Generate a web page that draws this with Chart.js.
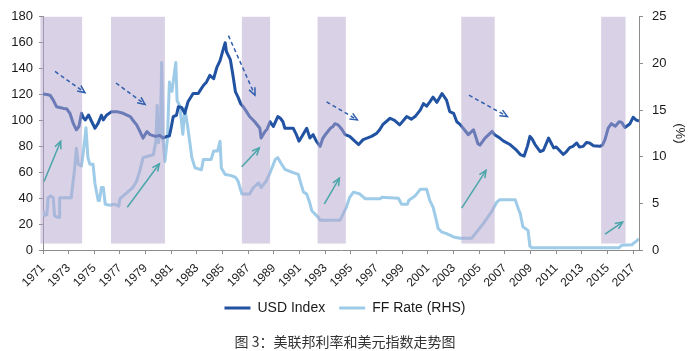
<!DOCTYPE html>
<html>
<head>
<meta charset="utf-8">
<script src="https://cdn.jsdelivr.net/npm/chart.js@4.4.1/dist/chart.umd.min.js"></script>
<style>
  html, body { margin: 0; padding: 0; background: #fff; }
  #wrap { width: 700px; height: 351px; }
</style>
</head>
<body>
<div id="wrap"><canvas id="chart" width="700" height="351"></canvas></div>
<script>
// ---- DATA ----
// USD index (left axis)
const usdYears = [
  1971.0, 1971.3, 1971.55, 1971.8, 1972.05, 1972.3, 1972.6, 1972.85, 1973.1, 1973.35, 1973.6, 1973.8,
  1974.0, 1974.15, 1974.3, 1974.55, 1974.8, 1975.05, 1975.3, 1975.55, 1975.7, 1975.95, 1976.35, 1976.75,
  1977.25, 1977.8, 1978.1, 1978.3, 1978.55, 1978.8, 1979.1, 1979.35, 1979.75, 1980.1, 1980.35, 1980.65,
  1980.85, 1981.0, 1981.15, 1981.4, 1981.55, 1981.8, 1982.05, 1982.3, 1982.7, 1983.1, 1983.3, 1983.5,
  1983.75, 1984.0, 1984.3, 1984.55, 1984.8, 1985.05, 1985.2, 1985.3, 1985.45, 1985.6, 1985.8, 1986.0,
  1986.2, 1986.4, 1986.6, 1986.85, 1987.1, 1987.5, 1987.9, 1988.0, 1988.3, 1988.45, 1988.7, 1988.95,
  1989.3, 1989.5, 1989.7, 1989.85, 1990.1, 1990.5, 1990.75, 1990.95, 1991.2, 1991.55, 1991.8, 1992.05,
  1992.3, 1992.6, 1992.8, 1993.0, 1993.4, 1993.6, 1993.75, 1994.0, 1994.3, 1994.55, 1994.9, 1995.3,
  1995.6, 1995.95, 1996.3, 1996.6, 1997.0, 1997.25, 1997.5, 1998.05, 1998.4, 1998.8, 1999.35, 1999.7,
  2000.0, 2000.4, 2000.65, 2000.9, 2001.15, 2001.4, 2001.7, 2002.1, 2002.45, 2002.7, 2003.0, 2003.25,
  2003.5, 2003.75, 2004.15, 2004.55, 2004.9, 2005.05, 2005.45, 2006.0, 2006.2, 2006.6, 2006.9, 2007.4,
  2007.9, 2008.2, 2008.5, 2008.75, 2008.95, 2009.1, 2009.35, 2009.75, 2010.0, 2010.4, 2010.8, 2011.0,
  2011.55, 2011.8, 2012.05, 2012.3, 2012.6, 2012.8, 2013.1, 2013.35, 2013.6, 2013.9, 2014.4, 2014.6,
  2014.8, 2015.05, 2015.3, 2015.6, 2015.9, 2016.1, 2016.35, 2016.75, 2017.0, 2017.2, 2017.45
];
const usdValues = [
  120.5, 120, 119.5, 115.7, 110.6, 110, 109.3, 109, 105.5, 97.9, 92.8, 95.3,
  105.5, 102, 100.4, 104.2, 99, 94, 97.9, 104, 100.4, 104, 106.8, 106.8,
  105.5, 103, 99, 96.6, 91.5, 86.4, 91.5, 89, 87.7, 88.5, 86.4, 87.7,
  88, 95, 103, 104, 110.6, 110, 105.5, 114.4, 120.8, 120.8, 124, 127,
  129.7, 134.8, 132.2, 141, 146.2, 155, 160, 153, 150, 147, 135, 122,
  118, 113, 110.6, 107, 103, 99, 94, 86.4, 91.5, 93, 99, 95.3,
  103, 101.7, 99, 94, 94, 94, 89, 84, 88, 94, 86.4, 89,
  84, 80, 86, 89, 94, 95.3, 97.5, 96.6, 93, 89, 87.7, 84,
  81.4, 85.2, 86.5, 87.7, 90, 93, 97, 101.7, 100, 96.6, 103, 101,
  103, 108, 113, 111, 114.4, 118, 114, 120.8, 115.7, 106.8, 105.5, 99,
  97, 94, 89, 92.8, 82, 81, 86.4, 91.5, 89, 86.4, 84, 81.4,
  77, 73.7, 72.5, 80, 87.7, 86, 81.4, 76, 77, 86.4, 78.8, 79.5,
  73.7, 76, 79, 80, 82.6, 79.5, 80, 83, 82.6, 80.5, 80, 81,
  85.2, 94, 97.5, 95.5, 99, 98.5, 94.5, 97.5, 102.5, 100.5, 99.5
];

// Fed funds rate (right axis, %)
const ffYears = [
  1971.0, 1971.1, 1971.3, 1971.4, 1971.6, 1971.8, 1971.9, 1972.1, 1972.25, 1972.3, 1973.2, 1973.35,
  1973.45, 1973.6, 1973.75, 1974.0, 1974.15, 1974.35, 1974.5, 1974.65, 1974.9, 1975.05, 1975.3, 1975.4,
  1975.55, 1975.7, 1975.85, 1976.2, 1976.6, 1976.9, 1977.0, 1977.5, 1978.0, 1978.3, 1978.55, 1978.8,
  1979.3, 1979.6, 1979.8, 1979.9, 1980.0, 1980.15, 1980.25, 1980.35, 1980.5, 1980.7, 1980.85, 1981.05,
  1981.35, 1981.45, 1981.65, 1981.9, 1982.05, 1982.3, 1982.6, 1982.85, 1983.35, 1983.5, 1984.1, 1984.3,
  1984.6, 1984.8, 1984.9, 1985.2, 1985.6, 1986.0, 1986.2, 1986.5, 1987.1, 1987.4, 1987.8, 1988.0,
  1988.4, 1988.7, 1989.1, 1989.3, 1989.6, 1989.85, 1990.5, 1990.9, 1991.0, 1991.3, 1991.55, 1991.8,
  1991.95, 1992.45, 1992.6, 1994.15, 1994.4, 1994.65, 1994.9, 1995.2, 1995.7, 1996.1, 1997.3, 1997.4,
  1998.7, 1998.95, 1999.4, 1999.5, 2000.0, 2000.4, 2000.9, 2001.15, 2001.4, 2001.6, 2001.8, 2002.05,
  2002.45, 2003.0, 2003.5, 2004.4, 2005.3, 2006.0, 2006.35, 2006.6, 2007.8, 2008.05, 2008.2, 2008.4,
  2008.8, 2008.95, 2009.1, 2015.9, 2016.1, 2016.9, 2017.0, 2017.2, 2017.45
];
const ffValues = [
  4.2, 3.7, 3.8, 5.6, 5.8, 5.6, 3.7, 3.5, 3.5, 5.6, 5.6, 7.4,
  8.5, 10.9, 9.2, 9.0, 10.6, 13.1, 9.9, 9.2, 9.2, 7.1, 5.3, 5.3,
  6.7, 6.7, 4.9, 4.8, 4.9, 4.7, 5.5, 6.1, 6.7, 7.4, 8.5, 9.9,
  10.1, 10.2, 11.7, 15.5, 11.5, 13, 20.1, 12, 9.5, 12, 18, 17,
  20.1, 16, 15.5, 12.4, 15.2, 13, 9.9, 8.8, 8.6, 9.7, 9.7, 10.6,
  10.6, 11.65, 8.8, 8.1, 8.0, 7.8, 7.4, 6.0, 6.0, 6.7, 7.2, 6.7,
  7.4, 8.3, 9.7, 9.9, 9.2, 8.65, 8.3, 8.1, 7.6, 6.2, 6.0, 5.0,
  4.2, 3.5, 3.2, 3.2, 3.9, 4.6, 5.65, 6.2, 6.0, 5.5, 5.5, 5.65,
  5.55, 4.9, 4.9, 5.3, 5.8, 6.5, 6.5, 5.3, 4.6, 3.5, 2.3, 1.95,
  1.75, 1.4, 1.25, 1.25, 2.8, 4.2, 5.1, 5.4, 5.4, 4.4, 3.9, 2.5,
  2.1, 0.4, 0.25, 0.25, 0.5, 0.55, 0.7, 0.9, 1.2
];

const tickYears = [1971, 1973, 1975, 1977, 1979, 1981, 1983, 1985, 1987, 1989, 1991, 1993,
  1995, 1997, 1999, 2001, 2003, 2005, 2007, 2009, 2011, 2013, 2015, 2017];

// rate hike periods (shaded)
const hikeStart = [1970.8, 1976.3, 1986.5, 1992.4, 2003.6, 2014.5];
const hikeEnd   = [1974.05, 1980.5, 1988.7, 1994.6, 2006.2, 2016.4];
const shadeLow = 5, shadeHigh = 180;

// trend arrows, [yearFrom, valueFrom, yearTo, valueTo] on the left axis
const usdArrows = [
  [1971.94, 137.8, 1974.27, 121.5],
  [1976.69, 128.9, 1978.95, 112.4],
  [1985.45, 165.5, 1987.52, 119.5],
  [1993.1, 114.4, 1995.5, 100.4],
  [2004.2, 119.5, 2007.19, 103]
];
const rateArrows = [
  [1971.08, 52.9, 1972.38, 83.9],
  [1977.57, 33, 1980.07, 66.6],
  [1986.49, 64.3, 1987.86, 78.8],
  [1992.93, 35.6, 1994.1, 55.5],
  [2003.63, 32.3, 2005.53, 61.5],
  [2014.8, 12.2, 2016.18, 21.6]
];

// ---- COLORS ----
const USD_COLOR = '#2253a3';
const FF_COLOR = '#9dcbe8';
const AXIS_COLOR = '#8c8c8c';

Chart.defaults.font.family = '"Liberation Sans", Arial, sans-serif';
Chart.defaults.color = '#1a1a1a';

function drawArrow(ctx, x0, y0, x1, y1, color, dash) {
  ctx.strokeStyle = color;
  ctx.lineWidth = 1.5;
  ctx.setLineDash(dash);
  ctx.beginPath();
  ctx.moveTo(x0, y0);
  ctx.lineTo(x1, y1);
  ctx.stroke();
  ctx.setLineDash([]);
  const a = Math.atan2(y1 - y0, x1 - x0), h = 8;
  ctx.beginPath();
  ctx.moveTo(x1 - h * Math.cos(a - 0.42), y1 - h * Math.sin(a - 0.42));
  ctx.lineTo(x1, y1);
  ctx.lineTo(x1 - h * Math.cos(a + 0.42), y1 - h * Math.sin(a + 0.42));
  ctx.stroke();
}

const overlays = {
  id: 'overlays',
  afterDatasetsDraw(chart) {
    const {ctx, scales: {x, y}} = chart;
    ctx.save();
    // shaded periods go over the lines
    ctx.fillStyle = 'rgba(180,164,204,0.5)';
    const yTop = y.getPixelForValue(shadeHigh), yBot = y.getPixelForValue(shadeLow);
    hikeStart.forEach((s, i) => {
      const x0 = x.getPixelForValue(s), x1 = x.getPixelForValue(hikeEnd[i]);
      ctx.fillRect(x0, yTop, x1 - x0, yBot - yTop);
    });
    usdArrows.forEach(a => drawArrow(ctx, x.getPixelForValue(a[0]), y.getPixelForValue(a[1]),
      x.getPixelForValue(a[2]), y.getPixelForValue(a[3]), '#2f5fae', [4, 3]));
    rateArrows.forEach(a => drawArrow(ctx, x.getPixelForValue(a[0]), y.getPixelForValue(a[1]),
      x.getPixelForValue(a[2]), y.getPixelForValue(a[3]), '#4aa6aa', []));
    ctx.restore();
  }
};

new Chart(document.getElementById('chart'), {
  type: 'line',
  data: {
    datasets: [
      {
        label: 'USD Index',
        data: usdYears.map((t, i) => ({x: t, y: usdValues[i]})),
        borderColor: USD_COLOR,
        backgroundColor: USD_COLOR,
        borderWidth: 3,
        pointRadius: 0,
        tension: 0,
        borderJoinStyle: 'round',
        yAxisID: 'y'
      },
      {
        label: 'FF Rate (RHS)',
        data: ffYears.map((t, i) => ({x: t, y: ffValues[i]})),
        borderColor: FF_COLOR,
        backgroundColor: FF_COLOR,
        borderWidth: 3,
        pointRadius: 0,
        tension: 0,
        borderJoinStyle: 'round',
        yAxisID: 'y1'
      }
    ]
  },
  options: {
    responsive: false,
    animation: false,
    devicePixelRatio: 1,
    layout: {padding: {top: 14, right: 10, bottom: 0, left: 0}},
    plugins: {
      tooltip: {enabled: false},
      legend: {
        position: 'bottom',
        labels: {
          usePointStyle: true,
          pointStyle: 'line',
          pointStyleWidth: 26,
          padding: 14,
          color: '#1a1a1a',
          font: {size: 14}
        }
      },
      title: {
        display: true,
        position: 'bottom',
        text: '图 3：美联邦利率和美元指数走势图',
        color: '#333',
        font: {family: '"Noto Sans CJK SC", sans-serif', size: 14, weight: 'normal'},
        padding: {top: 8.6, bottom: 0.6}
      }
    },
    scales: {
      x: {
        type: 'linear',
        min: 1971,
        max: 2017.45,
        afterBuildTicks: s => { s.ticks = tickYears.map(v => ({value: v})); },
        afterFit: s => { s.height = 37; },
        ticks: {
          autoSkip: false,
          minRotation: 45,
          maxRotation: 45,
          padding: 7,
          font: {size: 12},
          callback: v => String(v)
        },
        grid: {drawOnChartArea: false, tickLength: 4, color: AXIS_COLOR},
        border: {color: AXIS_COLOR}
      },
      y: {
        position: 'left',
        min: 0,
        max: 180,
        afterFit: s => { s.width = 43; },
        ticks: {stepSize: 20, padding: 6, font: {size: 13}},
        grid: {drawOnChartArea: false, tickLength: 4, color: AXIS_COLOR},
        border: {color: AXIS_COLOR}
      },
      y1: {
        position: 'right',
        min: 0,
        max: 25,
        afterFit: s => { s.width = 51; },
        ticks: {stepSize: 5, padding: 9, font: {size: 13}},
        title: {display: true, text: '(%)', font: {size: 13}, padding: {top: 2.2, bottom: 0}},
        grid: {drawOnChartArea: false, tickLength: 4, color: AXIS_COLOR},
        border: {color: AXIS_COLOR}
      }
    }
  },
  plugins: [overlays]
});
</script>
</body>
</html>
